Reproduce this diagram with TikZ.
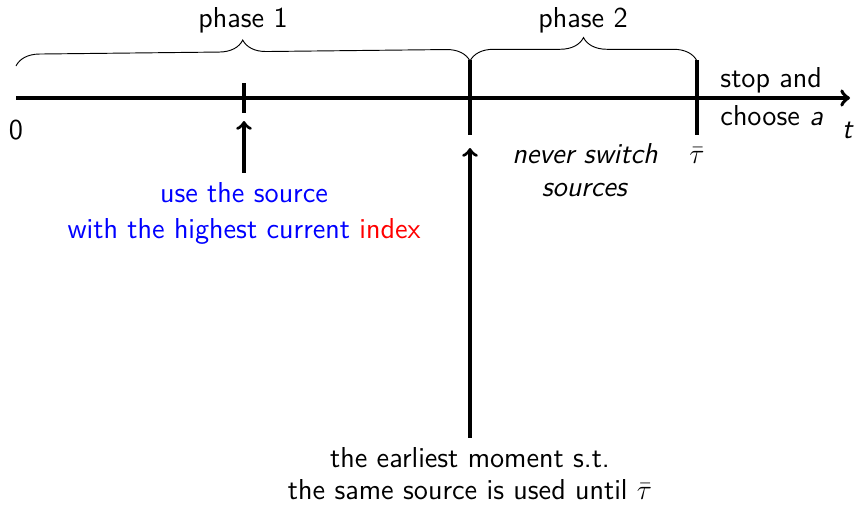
\documentclass[tikz,border=0pt]{standalone}
\usepackage{tikz}
\usetikzlibrary{decorations.pathreplacing,positioning}
\renewcommand{\familydefault}{\sfdefault}

\begin{document}
\begin{tikzpicture}[x=0.015cm,y=0.015cm]
    \tikzstyle{every node}+=[inner sep=0pt,font=\fontsize{12.3pt}{13pt}\selectfont]
    \tikzstyle{axis}=[line width=1.6pt]
    \tikzstyle{pointer}=[line width=1.4pt,->]
    \tikzstyle{phase}=[decorate,decoration={brace,amplitude=10pt}]
    \useasboundingbox (0,0) rectangle (854,-504);
    % time line and its marks
    \coordinate (origin) at (16,-98);
    \coordinate (tip) at (850,-98);
    \draw [axis,->] (origin) -- (tip);
    \draw [axis] (244,-83) -- (244,-113);
    \draw [axis] (470,-60) -- (470,-135);
    \draw [axis] (697,-60) -- (697,-135);
    \node (zero) at (16,-130) {0};
    \node (t) at (848,-130) {\textit{t}};
    \node (taubar) at (697,-156) {$\bar\tau$};
    % the two phases
    \coordinate (p0) at (16,-66);
    \coordinate (p1) at (470,-61);
    \coordinate (p2) at (697,-61);
    \draw [phase] (p0) -- (p1);
    \draw [phase] (p1) -- (p2);
    \node (phase1) at (243,-20) {phase 1};
    \node (phase2) at (583,-20) {phase 2};
    % labels
    \node (stop) [anchor=south west] at (720,-94) {stop and};
    \node (choose) [anchor=north west] at (720,-105) {choose \textit{a}};
    \node (never) [anchor=north,align=center] at (585,-143) {\textit{never switch}\\[1pt]\textit{sources}};
    \node (rule) [anchor=north,align=center,text=blue] at (244,-182)
        {use the source\\[2.5pt]with the highest current \textcolor{red}{index}};
    \node (moment) [anchor=north,align=center] at (470,-447)
        {the earliest moment s.t.\\[0.5pt]the same source is used until $\bar\tau$};
    \coordinate (m1) at (244,-121);
    \coordinate (m2) at (470,-148);
    \draw [pointer] ([yshift=4pt]rule.north) -- (m1);
    \draw [pointer] ([yshift=4pt]moment.north) -- (m2);
\end{tikzpicture}
\end{document}
